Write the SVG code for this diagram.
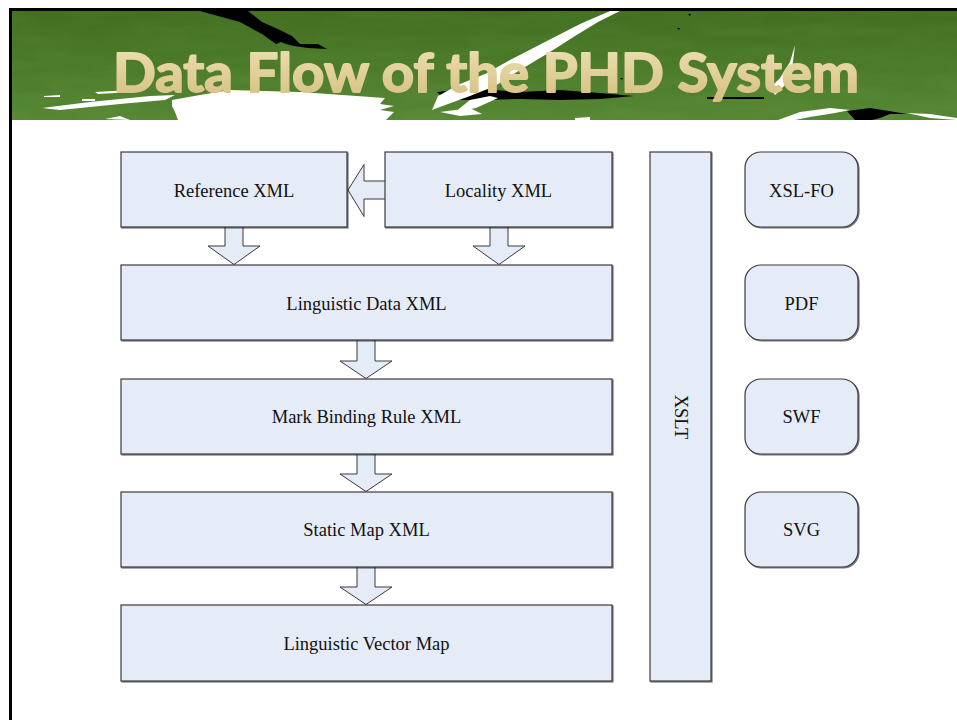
<svg xmlns="http://www.w3.org/2000/svg" width="957" height="720" viewBox="0 0 957 720">
  <defs>
    <linearGradient id="grass" x1="0" y1="0" x2="0" y2="1">
      <stop offset="0" stop-color="#426f20"/>
      <stop offset="0.5" stop-color="#4b7b29"/>
      <stop offset="1" stop-color="#568733"/>
    </linearGradient>
    <linearGradient id="gold" x1="0" y1="0" x2="0" y2="1">
      <stop offset="0" stop-color="#efe2b6"/>
      <stop offset="1" stop-color="#d5bf80"/>
    </linearGradient>
    <filter id="grain" x="0" y="0" width="100%" height="100%">
      <feTurbulence type="fractalNoise" baseFrequency="0.015 0.08" numOctaves="3" seed="7" result="n"/>
      <feColorMatrix in="n" type="matrix" values="0 0 0 0 0.6  0 0 0 0 0.8  0 0 0 0 0.45  0 0 0 0.6 -0.2" result="c"/>
      <feComposite in="c" in2="SourceGraphic" operator="in"/>
    </filter>
    <filter id="soft" x="-5%" y="-20%" width="110%" height="140%">
      <feDropShadow dx="1" dy="1" stdDeviation="0.6" flood-color="#000" flood-opacity="0.55"/>
    </filter>
  </defs>
  <style>
    .box { fill: #e6ecf7; stroke: #3a3a3a; stroke-width: 1.2; filter: url(#soft); }
    .arrow { fill: #e6ecf7; stroke: #3a3a3a; stroke-width: 1; }
    .lbl { font-family: "Liberation Serif", "Times New Roman", serif; font-size: 18.5px; fill: #111; text-anchor: middle; }
    .title { font-family: Lato, "Open Sans", "DejaVu Sans", sans-serif; font-weight: bold; font-size: 53px; fill: url(#gold); stroke: url(#gold); stroke-width: 1.8; stroke-linejoin: round; }
  </style>

  <!-- page -->
  <rect x="0" y="0" width="957" height="720" fill="#ffffff"/>

  <!-- header band -->
  <g id="header">
    <rect x="12" y="11" width="945" height="109" fill="url(#grass)"/>
    <rect x="12" y="11" width="945" height="109" fill="#ffffff" filter="url(#grain)" opacity="0.15"/>
    <!-- black brush strokes -->
    <path d="M200 11 L248 11 L262 22 L280 30 L292 36 L300 44 L318 44 L327 49 L308 48 L294 46 L286 44 L281 42 L276 44 L262 34 L240 22 Z" fill="#000"/>
    <path d="M437 92 L470 88 L520 92 L560 90 L600 93 L634 96 L600 99 L560 100 L520 99 L480 100 L445 100 Z" fill="#000"/>
    <path d="M707 97 L764 97 L764 99 L707 99 Z" fill="#000"/>
    <path d="M847 111 L870 108 L895 112 L907 114 L890 114 L880 118 L872 120 L855 120 Z" fill="#000"/>
    <path d="M688 14 L691 14 L690 16 Z M677 28 L680 28 L679 30 Z M620 78 L623 78 L622 80 Z" fill="#000"/>
    <!-- white brush strokes -->
    <path d="M172 100 L200 95 L230 90 L300 92 L385 98 L380 104 L394 106 L380 110 L394 112 L386 120 L178 120 L175 112 L172 106 Z" fill="#fff"/>
    <path d="M42 108 L90 102 L150 96 L175 95 L165 100 L120 104 L60 110 Z" fill="#fff"/>
    <path d="M95 92 L130 90 L132 92 L98 94 Z M44 96 L60 95 L60 97 L44 97 Z M82 99 L95 99 L95 101 L82 101 Z" fill="#fff"/>
    <path d="M105 119 L120 116 L130 120 Z" fill="#fff"/>
    <path d="M610 11 L580 24 L545 42 L510 60 L485 74 L460 84 L438 96 L432 110 L448 104 L470 96 L495 86 L520 70 L550 52 L575 36 L598 22 L620 11 Z" fill="#fff"/>
    <path d="M470 100 L490 96 L498 98 L476 108 L455 112 Z M440 112 L470 108 L482 114 L460 116 Z" fill="#fff"/>
    <path d="M795 45 L790 62 L780 78 L770 88 L775 95 L786 84 L792 70 Z" fill="#fff"/>
    <path d="M778 120 L800 112 L830 108 L850 110 L835 113 L810 117 L795 120 Z" fill="#fff"/>
    <path d="M907 113 L930 114 L957 118 L957 120 L930 118 Z" fill="#fff"/>
    <path d="M575 118 L590 117 L590 120 L575 120 Z" fill="#fff"/>
    <!-- title -->
    <text class="title" x="113" y="92" textLength="746" lengthAdjust="spacingAndGlyphs">Data Flow of the PHD System</text>
  </g>

  <!-- slide frame -->
  <path d="M10.5 720 L10.5 9.5 L957 9.5" fill="none" stroke="#000" stroke-width="3"/>

  <!-- connectors -->
  <g id="connectors">
    <!-- Locality -> Reference -->
    <path class="arrow" d="M385 181 L364 181 L364 164.5 L348 190 L364 216.5 L364 199 L385 199"/>
    <!-- Reference -> Linguistic Data -->
    <path class="arrow" d="M225 227 L225 246 L208 246 L234 264.5 L260 246 L243 246 L243 227"/>
    <!-- Locality -> Linguistic Data -->
    <path class="arrow" d="M490 227 L490 246 L473 246 L499 264.5 L525 246 L508 246 L508 227"/>
    <!-- Linguistic Data -> Mark Binding Rule -->
    <path class="arrow" d="M357 340 L357 361 L340 361 L366 378.5 L392 361 L375 361 L375 340"/>
    <!-- Mark Binding Rule -> Static Map -->
    <path class="arrow" d="M357 454 L357 474 L340 474 L366 491.5 L392 474 L375 474 L375 454"/>
    <!-- Static Map -> Linguistic Vector Map -->
    <path class="arrow" d="M357 567 L357 587 L340 587 L366 604.5 L392 587 L375 587 L375 567"/>
  </g>

  <g id="reference-xml">
    <rect class="box" x="121" y="152" width="226" height="75"/>
    <text class="lbl" x="234" y="196.5">Reference XML</text>
  </g>
  <g id="locality-xml">
    <rect class="box" x="385" y="152" width="227" height="75"/>
    <text class="lbl" x="498.5" y="196.5">Locality XML</text>
  </g>
  <g id="linguistic-data-xml">
    <rect class="box" x="121" y="265" width="491" height="75"/>
    <text class="lbl" x="366.5" y="309.5">Linguistic Data XML</text>
  </g>
  <g id="mark-binding-rule-xml">
    <rect class="box" x="121" y="379" width="491" height="75"/>
    <text class="lbl" x="366.5" y="423">Mark Binding Rule XML</text>
  </g>
  <g id="static-map-xml">
    <rect class="box" x="121" y="492" width="491" height="75"/>
    <text class="lbl" x="366.5" y="536">Static Map XML</text>
  </g>
  <g id="linguistic-vector-map">
    <rect class="box" x="121" y="605" width="491" height="76"/>
    <text class="lbl" x="366.5" y="649.5">Linguistic Vector Map</text>
  </g>
  <g id="xslt">
    <rect class="box" x="650" y="152" width="61" height="529"/>
    <text class="lbl" transform="translate(681 417) rotate(90)" x="0" y="6">XSLT</text>
  </g>
  <g id="xsl-fo">
    <rect class="box" x="745" y="152" width="113" height="75" rx="16" ry="16"/>
    <text class="lbl" x="801.5" y="196.5">XSL-FO</text>
  </g>
  <g id="pdf">
    <rect class="box" x="745" y="265" width="113" height="75" rx="16" ry="16"/>
    <text class="lbl" x="801.5" y="309.5">PDF</text>
  </g>
  <g id="swf">
    <rect class="box" x="745" y="379" width="113" height="75" rx="16" ry="16"/>
    <text class="lbl" x="801.5" y="423">SWF</text>
  </g>
  <g id="svg">
    <rect class="box" x="745" y="492" width="113" height="75" rx="16" ry="16"/>
    <text class="lbl" x="801.5" y="536">SVG</text>
  </g>
</svg>
